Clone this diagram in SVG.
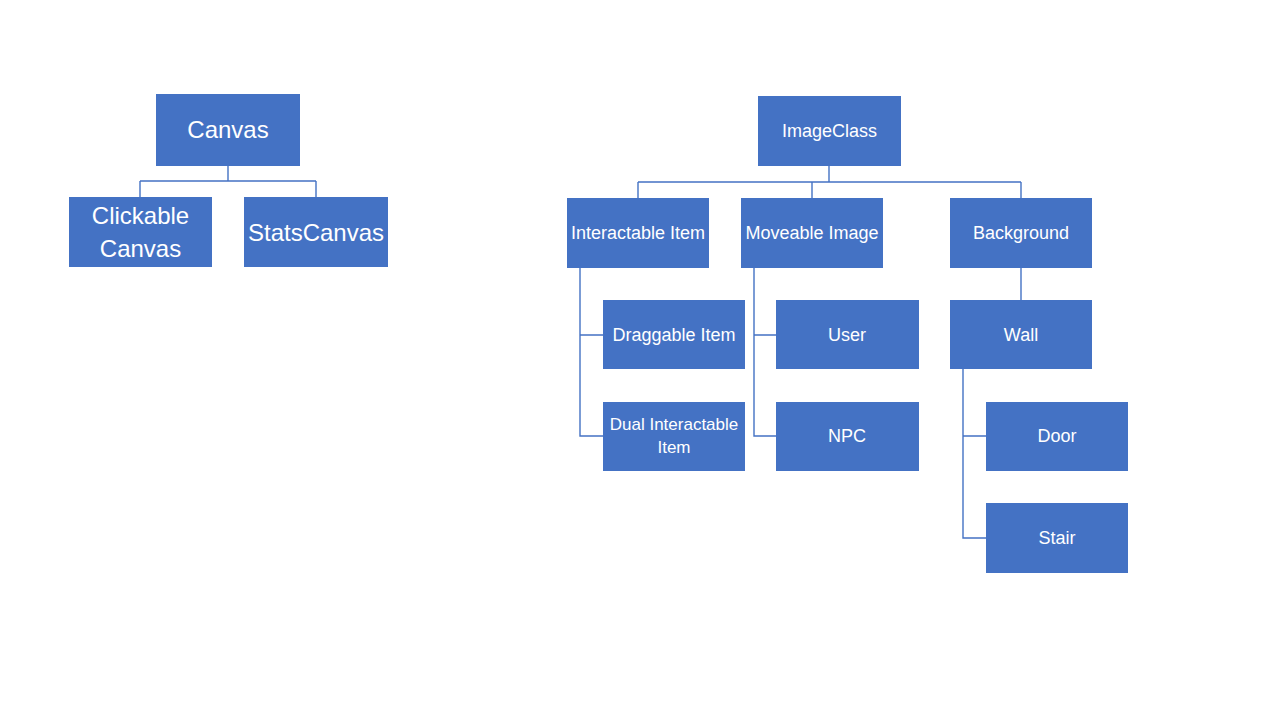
<svg xmlns="http://www.w3.org/2000/svg" width="1280" height="720" viewBox="0 0 1280 720">
<style>
.box{fill:#4472C4;}
.t{fill:#FFFFFF;font-family:"Liberation Sans",Arial,sans-serif;font-size:18px;text-anchor:middle;dominant-baseline:central;}
.big{font-size:24px;}
.sm{font-size:17px;}
.c{fill:none;stroke:#4472C4;stroke-width:1.4;}
</style>
<rect width="1280" height="720" fill="#FFFFFF"/>
<g id="connectors">
<path class="c" d="M228,166 V181 M140,181 H316 M140,181 V197 M316,181 V197"/>
<path class="c" d="M829,166 V182 M638,182 H1021 M638,182 V198 M812,182 V198 M1021,182 V198"/>
<path class="c" d="M580,268 V436 H603 M580,335 H603"/>
<path class="c" d="M754,268 V436 H776 M754,335 H776"/>
<path class="c" d="M1021,268 V300"/>
<path class="c" d="M963,369 V538 H986 M963,436 H986"/>
</g>
<g id="canvas"><rect class="box" x="156" y="94" width="144" height="72"/><text class="t big" x="228" y="129">Canvas</text></g>
<g id="clickable-canvas"><rect class="box" x="69" y="197" width="143" height="70"/><text class="t big" x="140.5" y="215">Clickable</text><text class="t big" x="140.5" y="248">Canvas</text></g>
<g id="stats-canvas"><rect class="box" x="244" y="197" width="144" height="70"/><text class="t big" x="316" y="232">StatsCanvas</text></g>
<g id="image-class"><rect class="box" x="758" y="96" width="143" height="70"/><text class="t" x="829.5" y="131">ImageClass</text></g>
<g id="interactable-item"><rect class="box" x="567" y="198" width="142" height="70"/><text class="t" x="638" y="233">Interactable Item</text></g>
<g id="moveable-image"><rect class="box" x="741" y="198" width="142" height="70"/><text class="t" x="812" y="233">Moveable Image</text></g>
<g id="background"><rect class="box" x="950" y="198" width="142" height="70"/><text class="t" x="1021" y="233">Background</text></g>
<g id="draggable-item"><rect class="box" x="603" y="300" width="142" height="69"/><text class="t" x="674" y="335">Draggable Item</text></g>
<g id="dual-interactable-item"><rect class="box" x="603" y="402" width="142" height="69"/><text class="t sm" x="674" y="424">Dual Interactable</text><text class="t sm" x="674" y="447">Item</text></g>
<g id="user"><rect class="box" x="776" y="300" width="143" height="69"/><text class="t" x="847" y="335">User</text></g>
<g id="npc"><rect class="box" x="776" y="402" width="143" height="69"/><text class="t" x="847" y="436">NPC</text></g>
<g id="wall"><rect class="box" x="950" y="300" width="142" height="69"/><text class="t" x="1021" y="335">Wall</text></g>
<g id="door"><rect class="box" x="986" y="402" width="142" height="69"/><text class="t" x="1057" y="436">Door</text></g>
<g id="stair"><rect class="box" x="986" y="503" width="142" height="70"/><text class="t" x="1057" y="538">Stair</text></g>
</svg>
